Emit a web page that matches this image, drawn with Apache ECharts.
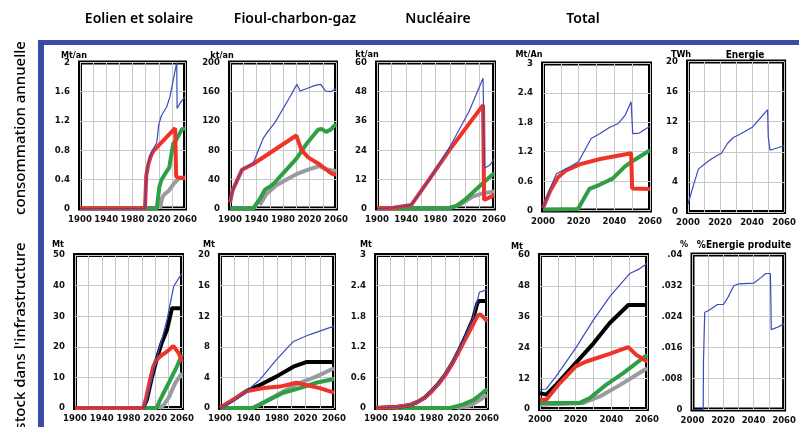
<!DOCTYPE html>
<html>
<head>
<meta charset="utf-8">
<script src="https://cdn.jsdelivr.net/npm/echarts@6/dist/echarts.min.js"></script>
<style>html,body{margin:0;padding:0;background:#fff}#c{width:799px;height:427px}</style>
</head>
<body>
<div id="c"></div>
<script>
// ---------- column titles / row titles ----------
const colTitles = ['Eolien et solaire', 'Fioul-charbon-gaz', 'Nucléaire', 'Total'];
const rowTitles = ['consommation annuelle', "stock dans l'infrastructure"];
const units = ['Mt/an', 'kt/an', 'kt/an', 'Mt/An', 'TWh', 'Mt', 'Mt', 'Mt', 'Mt', '%'];
const panelNames = ['', '', '', '', 'Energie', '', '', '', '', '%Energie produite'];

// ---------- axis ticks ----------
const xTicksLong = [1900, 1940, 1980, 2020, 2060];
const xTicksShort = [2000, 2020, 2040, 2060];
const yTicks = [
  [0, 0.4, 0.8, 1.2, 1.6, 2],
  [0, 40, 80, 120, 160, 200],
  [0, 12, 24, 36, 48, 60],
  [0, 0.6, 1.2, 1.8, 2.4, 3],
  [0, 4, 8, 12, 16, 20],
  [0, 10, 20, 30, 40, 50],
  [0, 4, 8, 12, 16, 20],
  [0, 0.6, 1.2, 1.8, 2.4, 3],
  [0, 12, 24, 36, 48, 60],
  [0, 0.008, 0.016, 0.024, 0.032, 0.04]
];

// ---------- data: consommation annuelle ----------
const eolConsoGray  = [[2022,0],[2025,0.14],[2028,0.19],[2035,0.24],[2043,0.34],[2050,0.41],[2060,0.42]];
const eolConsoGreen = [[1900,0],[2017,0],[2021,0.3],[2024,0.39],[2030,0.48],[2036,0.56],[2042,0.89],[2046,0.93],[2055,1.08],[2060,1.1]];
const eolConsoRed   = [[1900,0],[1999,0],[2001,0.45],[2004,0.6],[2008,0.72],[2012,0.79],[2045,1.1],[2046.5,0.44],[2050,0.42],[2060,0.42]];
const eolConsoBlue  = [[1900,0],[1999,0],[2001,0.47],[2004,0.62],[2008,0.75],[2012,0.82],[2017,0.9],[2020,1.15],[2024,1.27],[2032,1.39],[2037,1.53],[2041,1.71],[2047.4,2.0],[2048,1.37],[2053,1.45],[2060,1.53]];

const fosConsoGray  = [[1945,5],[1955,20],[1970,32],[1980,37],[2000,47],[2020,54],[2035,58],[2045,54],[2060,51]];
const fosConsoGreen = [[1900,0],[1935,0],[1945,13],[1953,26],[1962,31],[1968,36],[1980,48],[2000,68],[2015,88],[2033,108],[2038,109],[2045,105],[2052,108],[2060,116]];
const fosConsoRed   = [[1900,8],[1904,25],[1918,53],[1935,61],[2000,100],[2008,80],[2018,70],[2036,60],[2050,50],[2055,47],[2060,47]];
const fosConsoBlue  = [[1900,8],[1904,25],[1918,53],[1935,62],[1950,96],[1956,104],[1968,118],[1990,152],[2001,170],[2006,161],[2018,165],[2030,169],[2037,170],[2044,161],[2052,160],[2060,164]];

const nucConsoGray  = [[1980,0],[2000,0.3],[2013,1.5],[2031,4.9],[2045,6.3],[2060,7]];
const nucConsoGreen = [[1900,0],[1998,0.2],[2008,1],[2020,3.5],[2027,5.5],[2045,10.5],[2060,14.5]];
const nucConsoRed   = [[1900,0],[1922,0.3],[1947,1.5],[1975,13.5],[1999,24],[2045,42.5],[2046.5,3.5],[2050,4],[2060,5.5]];
const nucConsoBlue  = [[1900,0],[1922,0.3],[1947,1.5],[1975,13.5],[1999,25],[2026,40],[2045,53.5],[2047,16.5],[2055,18],[2060,20.5]];

const totConsoGreen = [[2000,0.02],[2019.6,0.03],[2026,0.44],[2032,0.53],[2039,0.65],[2045.7,0.89],[2049.4,0.99],[2060,1.23]];
const totConsoRed   = [[2000,0.05],[2004,0.4],[2008.4,0.68],[2013,0.82],[2020.5,0.94],[2032,1.05],[2049.4,1.17],[2050,0.45],[2060,0.44]];
const totConsoBlue  = [[2000,0.05],[2004,0.45],[2007.5,0.75],[2015,0.89],[2020,1.0],[2027,1.47],[2032,1.57],[2037,1.69],[2042,1.77],[2046,1.94],[2049.4,2.22],[2050.3,1.57],[2054,1.58],[2060,1.72]];

const energieBlue   = [[2000,1.06],[2003.2,3.4],[2006.5,5.7],[2010.6,6.4],[2014.3,7.0],[2019,7.6],[2020.9,7.8],[2024.6,9.1],[2028.3,9.9],[2033,10.4],[2040.4,11.3],[2049.7,13.6],[2050.1,10.0],[2051.2,8.2],[2060,8.8]];

// ---------- data: stock dans l'infrastructure ----------
const eolStockGray  = [[2026,0],[2032,0.8],[2040,3.3],[2050,8.2],[2060,11.4]];
const eolStockGreen = [[1900,0],[2022,0],[2027,2.5],[2032.5,4.9],[2042.5,9.2],[2052.5,13.6],[2060,17.4]];
const eolStockBlack = [[1900,0],[2002,0],[2007.5,2.7],[2015,10],[2022.5,16.2],[2030,21.5],[2037.5,25.5],[2045,32.6],[2060,32.6]];
const eolStockRed   = [[1900,0],[2002,0],[2006,3],[2012,9],[2017,13.5],[2021,15.5],[2028,17],[2038,18.5],[2047,20.3],[2055,18],[2060,15.2]];
const eolStockBlue  = [[1900,0],[2002,0],[2007.5,2.7],[2015,10],[2022.5,16.8],[2030,22.5],[2037.5,28.8],[2047.5,39.7],[2055,42.4],[2060,44]];

const fosStockGray  = [[1945,0],[1961,0.7],[1989,2.2],[2012,3.3],[2035,4.1],[2060,5.2]];
const fosStockGreen = [[1900,0],[1947,0],[1965,0.9],[1989,2.0],[2012,2.6],[2035,3.3],[2060,3.8]];
const fosStockBlack = [[1900,0],[1919,1.1],[1937,2.2],[1956,3.0],[1979,4.1],[2003,5.4],[2021,6.0],[2060,6.0]];
const fosStockRed   = [[1900,0],[1919,1.1],[1937,2.2],[1961,2.6],[1984,2.8],[2007,3.3],[2021,3.0],[2040,2.6],[2060,2.0]];
const fosStockBlue  = [[1900,0],[1919,0.9],[1937,2.2],[1956,3.7],[1979,6.3],[2003,8.7],[2026,9.6],[2060,10.7]];

const nucStockGray  = [[2017,0],[2036,0.05],[2050,0.16],[2060,0.26]];
const nucStockGreen = [[1900,0],[2007,0],[2026,0.07],[2041,0.16],[2053,0.29],[2060,0.37]];
const nucStockBlack = [[1900,0],[1930,0.02],[1950,0.06],[1960,0.12],[1970,0.2],[1980,0.33],[1990,0.48],[2000,0.66],[2010,0.88],[2020,1.14],[2030,1.43],[2040,1.75],[2046,2.05],[2048,2.1],[2060,2.1]];
const nucStockRed   = [[1900,0],[1930,0.02],[1950,0.06],[1960,0.12],[1970,0.2],[1980,0.32],[1990,0.47],[2000,0.65],[2010,0.87],[2020,1.12],[2030,1.38],[2040,1.64],[2046,1.8],[2050,1.84],[2055,1.78],[2060,1.7]];
const nucStockBlue  = [[1900,0],[1930,0.02],[1950,0.06],[1960,0.12],[1970,0.2],[1980,0.33],[1990,0.48],[2000,0.66],[2010,0.88],[2020,1.15],[2030,1.45],[2040,1.78],[2046,2.1],[2049,2.27],[2060,2.32]];

const totStockGray  = [[2000,1.7],[2024,2.3],[2033.6,4.9],[2045,9.4],[2060,15.9]];
const totStockGreen = [[2000,2.3],[2022,2.3],[2028,4.3],[2037,9.4],[2046.7,14],[2054,17.9],[2060,21.1]];
const totStockBlack = [[2000,6.2],[2003.5,5.6],[2009,9.4],[2020,17.9],[2030,25.6],[2039,33.4],[2049.5,40.5],[2060,40.5]];
const totStockRed   = [[2000,3.6],[2003.5,3.6],[2011,10],[2020,16.6],[2026,18.5],[2039,21.5],[2049.5,24.1],[2054,21.1],[2060,18.5]];
const totStockBlue  = [[2000,7.5],[2003.5,7.8],[2009,12.7],[2020,23.7],[2030,34.7],[2039,43.7],[2050.4,52.8],[2056,54.7],[2060,56.7]];

const partBlue = [[2000,0],[2007,0],[2007.2,0.0123],[2007.8,0.0123],[2008,0.0251],[2010.4,0.0255],[2016.3,0.0271],[2020.3,0.0271],[2023.3,0.029],[2027.2,0.032],[2030.2,0.0324],[2040,0.0326],[2045,0.0341],[2048,0.0351],[2051,0.0351],[2051.3,0.029],[2051.6,0.0206],[2056,0.0213],[2060,0.0221]];

// ---------- layout / style ----------
const C = {gray:'#9a9aa0', green:'#2f9f45', black:'#000000', red:'#ef3328', blue:'#3a4bbd'};
const W = {gray:4, green:4, black:4, red:4, blue:1.2};
const Z = {gray:2, green:3, black:4, red:5, blue:6};
const FONT = "'DejaVu Sans Condensed', 'Liberation Sans', sans-serif";

const panels = [
  {g:[80,62.5,105,146],  x:xTicksLong,  y:yTicks[0], s:{gray:eolConsoGray, green:eolConsoGreen, red:eolConsoRed, blue:eolConsoBlue}, u:[74,56]},
  {g:[230,62.5,106,146], x:xTicksLong,  y:yTicks[1], s:{gray:fosConsoGray, green:fosConsoGreen, red:fosConsoRed, blue:fosConsoBlue}, u:[222,56]},
  {g:[377,62.5,117,146], x:xTicksLong,  y:yTicks[2], s:{gray:nucConsoGray, green:nucConsoGreen, red:nucConsoRed, blue:nucConsoBlue}, u:[367,55]},
  {g:[543,63.5,107,147], x:xTicksShort, y:yTicks[3], s:{green:totConsoGreen, red:totConsoRed, blue:totConsoBlue}, u:[529,55]},
  {g:[688,61.5,108,150.5], x:xTicksShort, y:yTicks[4], s:{blue:energieBlue}, u:[681,55], n:[745,55]},
  {g:[75,255,107,153],   x:xTicksLong,  y:yTicks[5], s:{gray:eolStockGray, green:eolStockGreen, black:eolStockBlack, red:eolStockRed, blue:eolStockBlue}, u:[58,245]},
  {g:[220,255,114,153],  x:xTicksLong,  y:yTicks[6], s:{gray:fosStockGray, green:fosStockGreen, black:fosStockBlack, red:fosStockRed, blue:fosStockBlue}, u:[209,245]},
  {g:[376,255,111,153],  x:xTicksLong,  y:yTicks[7], s:{gray:nucStockGray, green:nucStockGreen, black:nucStockBlack, red:nucStockRed, blue:nucStockBlue}, u:[366,245]},
  {g:[540,255,107,154],  x:xTicksShort, y:yTicks[8], s:{gray:totStockGray, green:totStockGreen, black:totStockBlack, red:totStockRed, blue:totStockBlue}, u:[517,247]},
  {g:[692.5,254.5,102,155], x:xTicksShort, y:yTicks[9], s:{blue:partBlue}, u:[684,245], n:[744,245]}
];

const labelFont = {fontFamily:FONT, fontWeight:'bold', fontSize:9.5, color:'#111'};

const grids = [], xAxes = [], yAxes = [], series = [], graphics = [];
panels.forEach((p, i) => {
  grids.push({left:p.g[0], top:p.g[1], width:p.g[2], height:p.g[3], show:true, borderColor:'#000', borderWidth:4, backgroundColor:'#fff', containLabel:false});
  const xmin = p.x[0], xmax = p.x[p.x.length-1], xstep = p.x[1]-p.x[0];
  xAxes.push({type:'value', gridIndex:i, min:xmin, max:xmax, interval:xstep/2,
    axisLine:{show:false}, axisTick:{show:false},
    splitLine:{show:true, lineStyle:{color:'#c8c8c8', width:1}},
    axisLabel:Object.assign({margin:6, showMinLabel:true, showMaxLabel:true,
      formatter:v => ((v - xmin) % xstep === 0 ? String(v) : '')}, labelFont)});
  const ymin = p.y[0], ymax = p.y[p.y.length-1], ystep = p.y[1]-p.y[0];
  yAxes.push({type:'value', gridIndex:i, min:ymin, max:ymax, interval:ystep,
    axisLine:{show:false}, axisTick:{show:false},
    splitLine:{show:true, lineStyle:{color:'#c8c8c8', width:1}},
    axisLabel:Object.assign({margin:10, showMinLabel:true, showMaxLabel:true,
      formatter:v => {
        if (i === 9) { if (v === 0) return '0'; return (+v.toFixed(3)).toString().replace(/^0/, ''); }
        return String(+v.toFixed(3));
      }}, labelFont)});
  Object.keys(p.s).forEach(k => {
    series.push({type:'line', xAxisIndex:i, yAxisIndex:i, data:p.s[k], showSymbol:false, symbol:'none',
      z:Z[k], lineStyle:{color:C[k], width:W[k]}, itemStyle:{color:C[k]}, silent:true, animation:false});
  });
  graphics.push({type:'text', x:p.u[0], y:p.u[1], style:{text:units[i], fill:'#000', fontFamily:FONT, fontWeight:'bold', fontSize:9, align:'center', verticalAlign:'middle'}, z:50});
  if (p.n) graphics.push({type:'text', x:p.n[0], y:p.n[1], style:{text:panelNames[i], fill:'#000', fontFamily:FONT, fontWeight:'bold', fontSize:10, align:'center', verticalAlign:'middle'}, z:50});
});

// frame (blue)
graphics.push({type:'rect', shape:{x:38, y:40, width:761, height:5}, style:{fill:'#3a4ca6'}, z:40});
graphics.push({type:'rect', shape:{x:38, y:40, width:6, height:387}, style:{fill:'#3a4ca6'}, z:40});
// column titles
const titleX = [139, 295, 438, 583];
colTitles.forEach((t, i) => graphics.push({type:'text', x:titleX[i], y:19, style:{text:t, fill:'#000', fontFamily:'Noto Sans', fontWeight:600, fontSize:14, align:'center', verticalAlign:'middle'}, z:50}));
// row titles
const rowY = [128, 336];
rowTitles.forEach((t, i) => graphics.push({type:'text', x:21, y:rowY[i], rotation:Math.PI/2, style:{text:t, fill:'#000', fontFamily:'Noto Sans', fontWeight:500, fontSize:15, align:'center', verticalAlign:'middle'}, z:50}));

const chart = echarts.init(document.getElementById('c'), null, {renderer:'canvas'});
chart.setOption({animation:false, backgroundColor:'#fff', grid:grids, xAxis:xAxes, yAxis:yAxes, series:series, graphic:graphics});
</script>
</body>
</html>
